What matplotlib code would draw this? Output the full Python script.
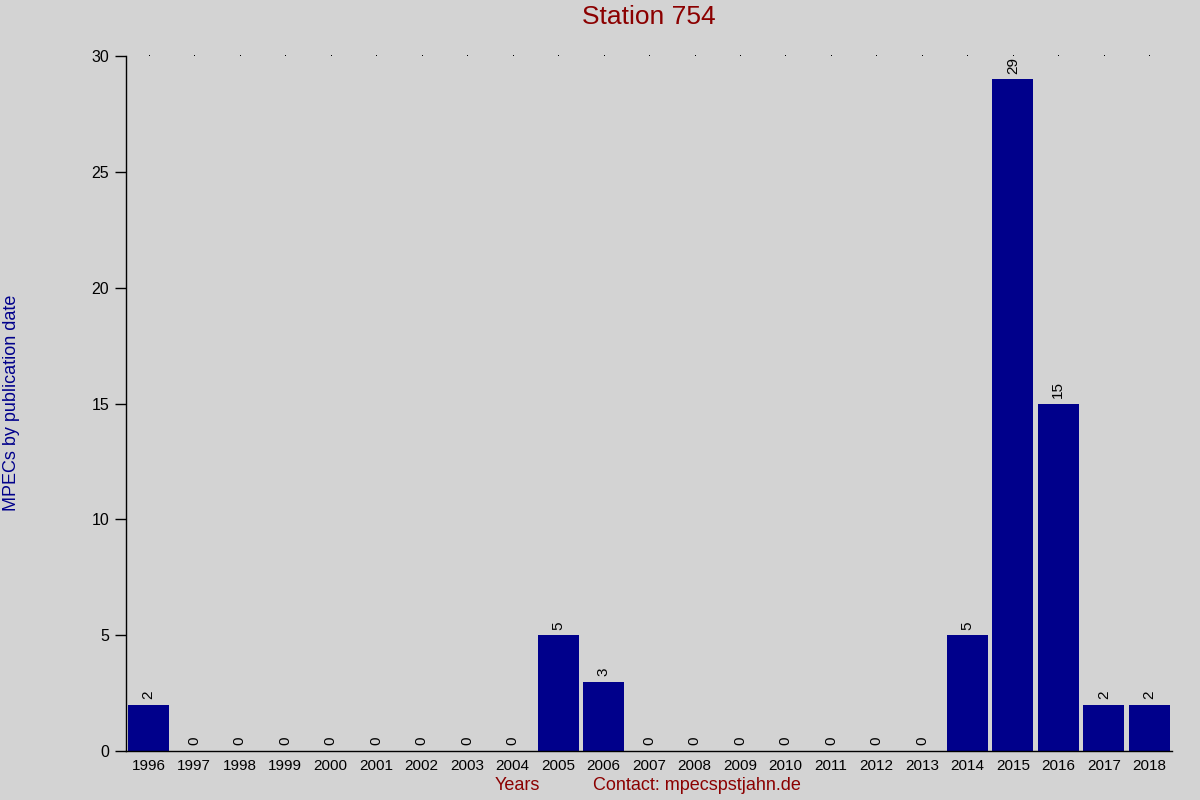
import matplotlib
matplotlib.use("Agg")
import matplotlib.pyplot as plt

plt.rcParams['font.family'] = ['Liberation Sans', 'DejaVu Sans']

# data
years = [str(y) for y in range(1996, 2019)]
counts = [2, 0, 0, 0, 0, 0, 0, 0, 0, 5, 3, 0, 0, 0, 0, 0, 0, 0, 5, 29, 15, 2, 2]
y_ticks = [0, 5, 10, 15, 20, 25, 30]

bg = '#d3d3d3'
fig = plt.figure(figsize=(12, 8), dpi=100, facecolor=bg)
ax = fig.add_axes([0.105, 0.06125, 0.8717, 0.86875], facecolor=bg)

x = list(range(len(years)))
bars = ax.bar(x, counts, width=0.9, color='#00008b')
for xi, c in zip(x, counts):
    ax.annotate(str(c), (xi, c), xytext=(0, 4), textcoords='offset points',
                rotation=90, ha='center', va='bottom', fontsize=11, color='black')

# dotted top grid marks
ax.plot(x, [y_ticks[-1]] * len(x), linestyle='none', marker=',', color='black', clip_on=False)

ax.set_xlim(-0.5, 22.5)
ax.set_ylim(0, 30)
ax.set_xticks(x)
ax.set_xticklabels(years, fontsize=11)
ax.set_yticks(y_ticks)
ax.set_yticklabels([str(t) for t in y_ticks], fontsize=11.5)
ax.tick_params(axis='x', length=0, pad=6)
ax.tick_params(axis='y', length=8, width=1, pad=4)
for s in ['top', 'right']:
    ax.spines[s].set_visible(False)
ax.spines['left'].set_linewidth(1)
ax.spines['bottom'].set_linewidth(1)

fig.text(0.541, 0.979, 'Station 754', ha='center', va='center', fontsize=19, color='#8b0000')
fig.text(0.0095, 0.496, 'MPECs by publication date', rotation=90, ha='center', va='center',
         fontsize=13, color='#00008b')
fig.text(0.431, 0.0175, 'Years', ha='center', va='center', fontsize=13, color='#8b0000')
fig.text(0.581, 0.0175, 'Contact: mpecspstjahn.de', ha='center', va='center', fontsize=13, color='#8b0000')

fig.savefig('out.png', dpi=100, facecolor=bg)
